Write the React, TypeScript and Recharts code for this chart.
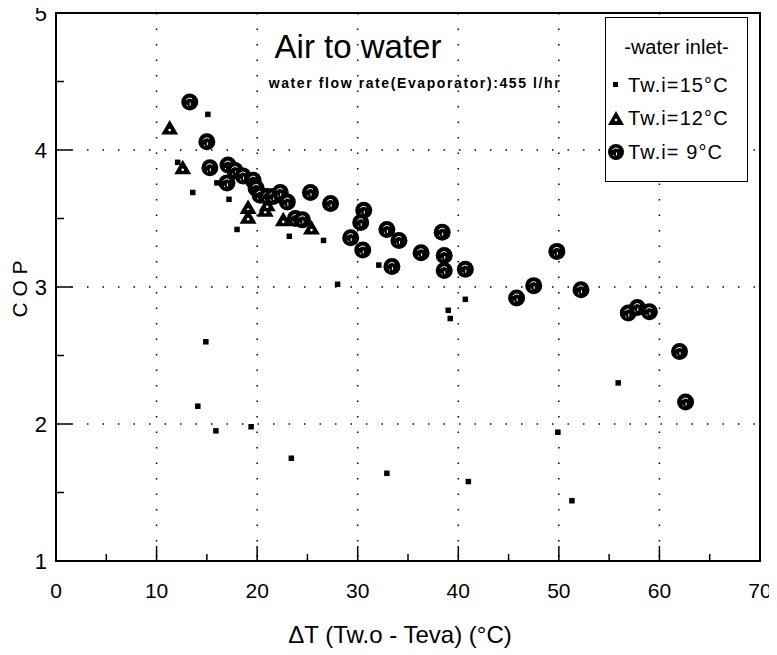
import React from 'react';
import { ScatterChart, Scatter, XAxis, YAxis, CartesianGrid, ReferenceArea, Legend, Label } from 'recharts';

const xMajorTicks = [0, 10, 20, 30, 40, 50, 60, 70];
const xMinorTicks = [5, 15, 25, 35, 45, 55, 65];
const yMajorTicks = [1, 2, 3, 4, 5];
const yMinorTicks = [1.5, 2.5, 3.5, 4.5];

const seriesNames = ['Tw.i=15°C', 'Tw.i=12°C', 'Tw.i= 9°C'];
const titleText = 'Air to water';
const subtitleText = 'water flow rate(Evaporator):455 l/hr';
const legendTitle = '-water inlet-';
const xTitle = 'ΔT (Tw.o - Teva) (°C)';
const yTitle = 'C O P';

const tw15: [number, number][] = [
  [15.1, 4.26], [12.1, 3.91], [13.6, 3.69], [16.0, 3.76], [17.2, 3.64], [18.0, 3.42],
  [23.2, 3.37], [26.6, 3.34], [28.0, 3.02], [32.1, 3.16], [39.0, 2.83], [39.2, 2.77],
  [40.7, 2.91], [14.9, 2.60], [14.1, 2.13], [15.9, 1.95], [19.4, 1.98], [23.4, 1.75],
  [32.9, 1.64], [41.0, 1.58], [49.9, 1.94], [51.3, 1.44], [55.9, 2.30],
];

const tw12: [number, number][] = [
  [11.3, 4.16], [12.6, 3.87], [19.1, 3.58], [19.1, 3.51], [20.8, 3.56], [21.0, 3.60],
  [22.6, 3.49], [25.4, 3.43],
];

const tw9: [number, number][] = [
  [13.3, 4.35], [15.0, 4.06], [15.3, 3.87], [17.1, 3.89], [17.8, 3.85], [18.6, 3.81],
  [19.6, 3.78], [17.0, 3.76], [19.9, 3.72], [20.3, 3.67], [21.0, 3.66], [21.6, 3.66],
  [22.3, 3.69], [23.0, 3.62], [23.8, 3.50], [24.5, 3.49], [25.3, 3.69], [27.3, 3.61],
  [30.6, 3.56], [30.3, 3.47], [29.3, 3.36], [30.5, 3.27], [32.9, 3.42], [34.1, 3.34],
  [33.4, 3.15], [36.3, 3.25], [38.4, 3.40], [38.6, 3.23], [38.6, 3.12], [40.7, 3.13],
  [45.8, 2.92], [47.5, 3.01], [49.8, 3.26], [52.2, 2.98], [56.9, 2.81], [57.8, 2.85],
  [59.0, 2.82], [62.0, 2.53], [62.6, 2.16],
];

const toPts = (a: [number, number][]) => a.map(([x, y]) => ({ x, y }));
const xAllTicks = [...xMajorTicks, ...xMinorTicks].sort((a, b) => a - b);
const yAllTicks = [...yMajorTicks, ...yMinorTicks].sort((a, b) => a - b);

const FONT = '"Liberation Sans", Arial, Helvetica, sans-serif';

const XTick = (p: any) => {
  const { x, y, payload } = p;
  const v = payload.value;
  const major = xMajorTicks.includes(v);
  return (
    <g>
      <line x1={x} x2={x} y1={y} y2={y - (major ? 15 : 7)} stroke="#000" strokeWidth={1.5} />
      {major && (
        <text x={x} y={y + 37} textAnchor="middle" fontSize={21} fontFamily={FONT} fill="#000">
          {v}
        </text>
      )}
    </g>
  );
};

const YTick = (p: any) => {
  const { x, y, payload } = p;
  const v = payload.value;
  const major = yMajorTicks.includes(v);
  return (
    <g>
      <line x1={x} x2={x + (major ? 16 : 8)} y1={y} y2={y} stroke="#000" strokeWidth={1.5} />
      {major && (
        <text x={x - 9} y={y} dy="0.355em" textAnchor="end" fontSize={22} fontFamily={FONT} fill="#000">
          {v}
        </text>
      )}
    </g>
  );
};

const SquareShape = (p: any) => (
  <rect x={p.cx - 2.75} y={p.cy - 2.75} width={5.5} height={5.5} fill="#000" />
);

const TriShape = (p: any) => {
  const { cx, cy } = p;
  return (
    <g>
      <polygon points={`${cx},${cy - 8} ${cx + 8.5},${cy + 6.5} ${cx - 8.5},${cy + 6.5}`} fill="#000" />
      <circle cx={cx} cy={cy + 2} r={1.3} fill="#fff" />
    </g>
  );
};

const CircShape = (p: any) => {
  const { cx, cy } = p;
  return (
    <g>
      <circle cx={cx} cy={cy} r={8.5} fill="#000" />
      <path
        d={`M${cx - 3.5},${cy - 2} a4,4 0 0,1 6,-1 M${cx + 0.5},${cy + 0.5} l0,3 M${cx - 3},${cy + 3} l1.2,1`}
        stroke="#fff"
        strokeWidth={1}
        fill="none"
      />
    </g>
  );
};

const iconFor = (i: number) => {
  if (i === 0) return <rect x={6} y={6} width={5} height={5} fill="#000" />;
  if (i === 1)
    return (
      <g>
        <polygon points="9,1 17,15 1,15" fill="#000" />
        <circle cx={9} cy={10} r={1.3} fill="#fff" />
      </g>
    );
  return (
    <g>
      <circle cx={9} cy={9} r={8} fill="#000" />
      <path d="M5.5,7 a4,4 0 0,1 6,-1 M9.5,9.5 l0,3 M6,12 l1.2,1" stroke="#fff" strokeWidth={1} fill="none" />
    </g>
  );
};

const LegendBox = () => (
  <div
    style={{
      position: 'relative',
      width: 143,
      height: 165,
      border: '1.5px solid #000',
      boxSizing: 'border-box',
      background: '#fff',
      fontFamily: FONT,
      color: '#000',
    }}
  >
    <div style={{ position: 'absolute', left: 0, width: '100%', top: 18, textAlign: 'center', fontSize: 20, lineHeight: '22px' }}>
      {legendTitle}
    </div>
    {seriesNames.map((n, i) => (
      <div key={n} style={{ position: 'absolute', left: 0, top: 56 + i * 33.5, height: 22, display: 'flex', alignItems: 'center' }}>
        <svg width={18} height={18} style={{ marginLeft: 1, marginRight: 3 }}>
          {iconFor(i)}
        </svg>
        <span style={{ fontSize: 20, letterSpacing: 1.1, whiteSpace: 'pre' }}>{n}</span>
      </div>
    ))}
  </div>
);

export default function App() {
  return (
    <div style={{ position: 'relative', width: 777, height: 655, margin: '-8px 0 0 -8px', background: '#fff' }}>
      <ScatterChart width={777} height={655} margin={{ top: 13, right: 17, left: 55, bottom: 93 }}>
        <XAxis
          xAxisId="x"
          dataKey="x"
          type="number"
          domain={[0, 70]}
          ticks={xAllTicks}
          height={1}
          axisLine={false}
          tickLine={false}
          tickSize={0}
          tickMargin={0}
          tick={XTick}
          interval={0}
        >
          <Label
            content={(props: any) => {
              const vb = props.viewBox || {};
              return (
                <text x={vb.x + vb.width / 2 - 8} y={643} textAnchor="middle" fontSize={24} fontFamily={FONT} fill="#000">
                  {xTitle}
                </text>
              );
            }}
          />
        </XAxis>
        <YAxis
          yAxisId="y"
          dataKey="y"
          type="number"
          domain={[1, 5]}
          ticks={yAllTicks}
          width={1}
          axisLine={false}
          tickLine={false}
          tickSize={0}
          tickMargin={0}
          tick={YTick}
          interval={0}
        >
          <Label
            content={(props: any) => {
              const vb = props.viewBox || {};
              const cx = 19;
              const cy = vb.y + vb.height / 2 + 2;
              return (
                <text
                  x={cx}
                  y={cy}
                  transform={`rotate(-90 ${cx} ${cy})`}
                  textAnchor="middle"
                  dominantBaseline="central"
                  fontSize={21}
                  fontFamily={FONT}
                  fill="#000"
                >
                  {yTitle}
                </text>
              );
            }}
          />
        </YAxis>
        <CartesianGrid
          xAxisId="x"
          yAxisId="y"
          stroke="#000"
          strokeWidth={1.5}
          strokeDasharray="1.5 14"
          verticalValues={xMajorTicks}
          horizontalValues={yMajorTicks}
        />
        <Legend
          layout="vertical"
          align="center"
          verticalAlign="middle"
          content={() => <LegendBox />}
          wrapperStyle={{ left: 605, top: 17, width: 143, height: 165 }}
        />
        <Scatter name={seriesNames[0]} xAxisId="x" yAxisId="y" data={toPts(tw15)} shape={SquareShape} isAnimationActive={false} />
        <Scatter name={seriesNames[1]} xAxisId="x" yAxisId="y" data={toPts(tw12)} shape={TriShape} isAnimationActive={false} />
        <Scatter name={seriesNames[2]} xAxisId="x" yAxisId="y" data={toPts(tw9)} shape={CircShape} isAnimationActive={false} />
        <ReferenceArea xAxisId="x" yAxisId="y" x1={0} x2={70} y1={1} y2={5} fill="none" stroke="#000" strokeWidth={2} ifOverflow="visible" />
      </ScatterChart>
      <div
        style={{
          position: 'absolute',
          left: 208,
          width: 300,
          top: 30,
          textAlign: 'center',
          fontFamily: FONT,
          fontSize: 33,
          lineHeight: '34px',
          color: '#000',
          pointerEvents: 'none',
        }}
      >
        {titleText}
      </div>
      <div
        style={{
          position: 'absolute',
          left: 215,
          width: 400,
          top: 75,
          textAlign: 'center',
          fontFamily: FONT,
          fontSize: 14,
          fontWeight: 'bold',
          letterSpacing: 1.6,
          lineHeight: '17px',
          color: '#000',
          whiteSpace: 'pre',
          pointerEvents: 'none',
        }}
      >
        {subtitleText}
      </div>
    </div>
  );
}
